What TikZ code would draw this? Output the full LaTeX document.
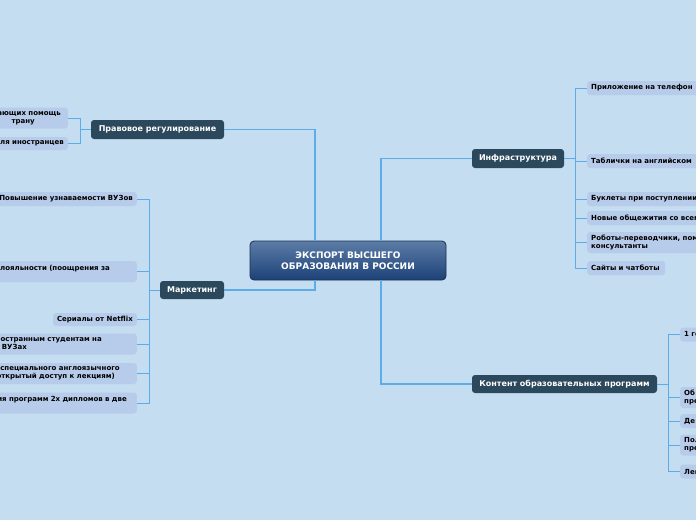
\documentclass[tikz,border=0pt]{standalone}
\usepackage{fontspec}
\setmainfont{DejaVu Sans}
\usetikzlibrary{shadings}
\definecolor{bg}{RGB}{196,221,241}
\definecolor{leafc}{RGB}{183,204,234}
\definecolor{branchc}{RGB}{44,72,92}
\definecolor{linec}{RGB}{92,172,234}
\definecolor{ctop}{RGB}{92,124,166}
\definecolor{cbot}{RGB}{29,66,120}
\definecolor{cborder}{RGB}{26,48,80}
% a line fragment whose right end lies #1 pt left of the text's right edge
\newcommand\rfrag[2]{\hbox to 170pt{\hfill #2\kern #1pt}}
\begin{document}
\begin{tikzpicture}[x=1pt,y=-1pt,
  central/.style={draw=cborder, line width=0.8pt, top color=ctop, bottom color=cbot,
    rounded corners=4pt, text=white, font=\fontsize{9}{10.5}\selectfont\bfseries,
    align=center, minimum width=196pt, minimum height=39pt, inner sep=0pt},
  branch/.style={fill=branchc, rounded corners=3pt, text=white,
    font=\fontsize{8}{10}\selectfont\bfseries, inner sep=0pt},
  leaf/.style={fill=leafc, rounded corners=3pt, text=black,
    font=\fontsize{7}{8}\selectfont\bfseries, inner xsep=4pt, inner ysep=2pt},
  leafR/.style={leaf, anchor=west, align=left},
  leafL/.style={leaf, anchor=east, align=left, text width=170pt},
  one/.style={minimum height=14pt},
  two/.style={minimum height=21pt},
  conn/.style={draw=linec, line width=1.1pt},
  sub/.style={draw=linec, line width=0.8pt}
]
\useasboundingbox (0,0) rectangle (696,520);
\fill[bg] (0,0) rectangle (696,520);
\clip (0,0) rectangle (696,520);

% central and branches
\node[central] (c) at (348,260.5) {ЭКСПОРТ ВЫСШЕГО\\ОБРАЗОВАНИЯ В РОССИИ};
\node[branch, minimum width=133pt, minimum height=19pt] (prav) at (157.5,129.5) {Правовое регулирование};
\node[branch, minimum width=64pt, minimum height=18pt] (mark) at (192,290) {Маркетинг};
\node[branch, minimum width=92pt, minimum height=19pt] (infra) at (518,158.5) {Инфраструктура};
\node[branch, minimum width=185pt, minimum height=18pt] (cont) at (564.5,384) {Контент образовательных программ};

% left leaves: Правовое регулирование
\node[leafL, two] (p1) at (68,118) {\rfrag{3}{ающих помощь}\\\rfrag{29}{трану}};
\node[leafL, minimum height=13pt] (p2) at (68,143.5) {\rfrag{0}{ля иностранцев}};

% left leaves: Маркетинг
\node[leafL, one] (m1) at (137,199) {\rfrag{0}{Повышение узнаваемости ВУЗов}};
\node[leafL, two] (m2) at (137,271.5) {\rfrag{23}{лояльности (поощрения за}\\\rule{0pt}{5pt}};
\node[leaf, anchor=east, minimum height=13pt] (m3) at (137,319.5) {Сериалы от Netflix};
\node[leafL, two] (m4) at (137,344) {\rfrag{31}{ностранным студентам на}\\\rfrag{106}{ВУЗах}};
\node[leafL, two] (m5) at (137,373.5) {\rfrag{13}{специального англоязычного}\\\rfrag{18}{открытый доступ к лекциям)}};
\node[leafL, two] (m6) at (137,403) {\rfrag{6}{ия программ 2х дипломов в две}\\\rule{0pt}{5pt}};

% right leaves: Инфраструктура
\node[leafR, one, text width=140pt] (r1) at (587,88) {Приложение на телефон};
\node[leafR, one, text width=140pt] (r2) at (587,161) {Таблички на английском};
\node[leafR, one, text width=140pt] (r3) at (587,199) {Буклеты при поступлении};
\node[leafR, one, text width=140pt] (r4) at (587,218) {Новые общежития со всеми};
\node[leafR, two, text width=140pt] (r5) at (587,242.5) {Роботы-переводчики, помощники\\консультанты};
\node[leafR, one, text width=70pt] (r6) at (587,268) {Сайты и чатботы};

% right leaves: Контент образовательных программ
\node[leafR, one, text width=40pt] (k1) at (680,334.5) {1 год};
\node[leafR, two, text width=40pt] (k2) at (680,397.5) {Об\\пре};
\node[leafR, one, text width=40pt] (k3) at (680,421) {Де};
\node[leafR, two, text width=40pt] (k4) at (680,445) {Пол\\пре};
\node[leafR, one, text width=40pt] (k5) at (680,471.5) {Лен};

% connectors from the central node
\draw[conn] ([xshift=-33pt]c.north) |- (prav.east);
\draw[conn] ([xshift=-33pt]c.south) |- (mark.east);
\draw[conn] ([xshift=33pt]c.north) |- (infra.west);
\draw[conn] ([xshift=33pt]c.south) |- (cont.west);

% brackets
\draw[sub] (prav.west) -- ++(-10,0) coordinate (pb);
\foreach \n in {p1,p2} \draw[sub] (pb) |- (\n.east);
\draw[sub] (mark.west) -- ++(-10,0) coordinate (mb);
\foreach \n in {m1,m2,m3,m4,m5,m6} \draw[sub] (mb) |- (\n.east);
\draw[sub] (infra.east) -- ++(11,0) coordinate (ib);
\foreach \n in {r1,r2,r3,r4,r5,r6} \draw[sub] (ib) |- (\n.west);
\draw[sub] (cont.east) -- ++(11,0) coordinate (kb);
\foreach \n in {k1,k2,k3,k4,k5} \draw[sub] (kb) |- (\n.west);
\end{tikzpicture}
\end{document}
